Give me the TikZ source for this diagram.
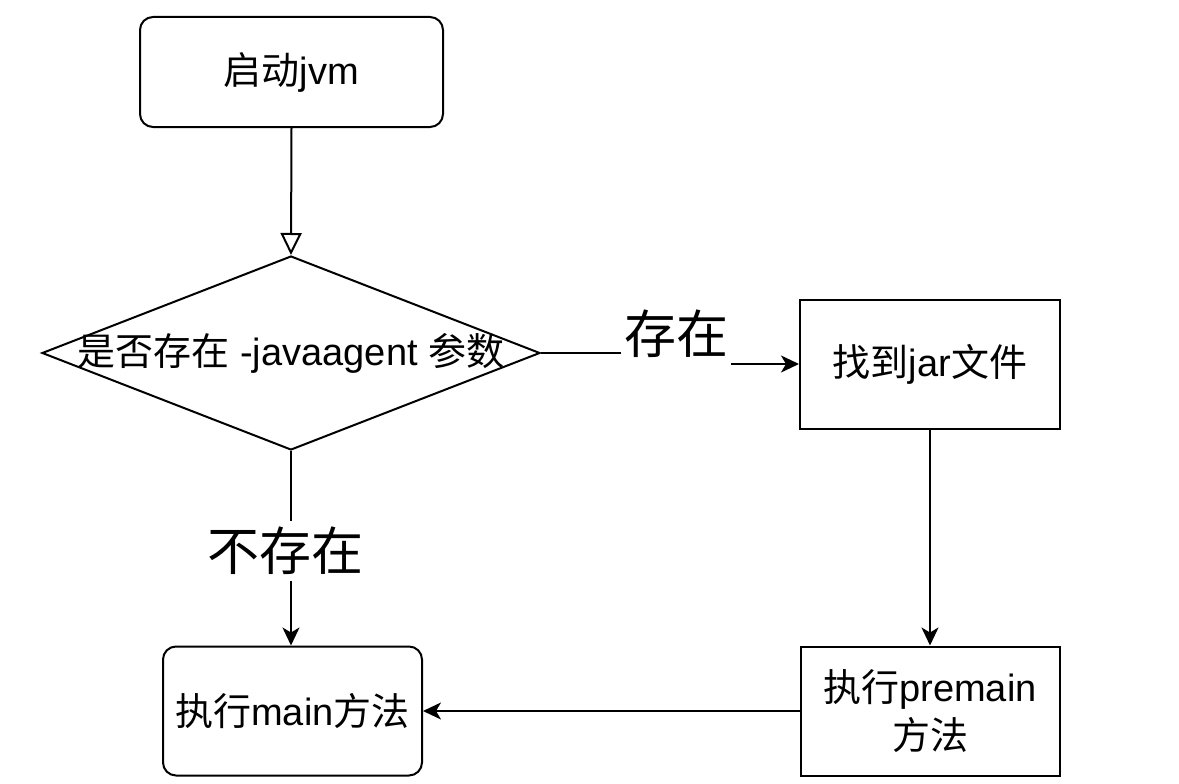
\documentclass[tikz,border=0pt]{standalone}
\usepackage{fontspec}
\setmainfont{Liberation Sans}
\newfontfamily\cjk{Noto Sans CJK SC}
\usetikzlibrary{arrows.meta,shapes.geometric}
\begin{document}
\begin{tikzpicture}[x=1pt,y=-1pt,
  every node/.style={font=\fontsize{38}{48}\selectfont},
  boxs/.style={draw=black,line width=2pt,fill=white,minimum width=259pt,minimum height=129pt,inner sep=0pt,align=center},
  rbox/.style={boxs,rounded corners=13pt},
  decision/.style={diamond,draw=black,line width=2pt,minimum width=498pt,minimum height=194pt,inner sep=0pt},
  arr/.style={line width=2pt,-{Stealth[length=18pt,width=17pt,inset=5pt]}},
  oarr/.style={line width=2pt,-{Triangle[open,length=22pt,width=21pt,line width=2pt]}},
  lbl/.style={fill=white,font=\fontsize{52}{52}\selectfont,inner xsep=3pt}
]
\useasboundingbox (0,0) rectangle (1179,784);
\fill[white] (0,0) rectangle (1179,784);

\node[rbox,minimum width=303pt,minimum height=110pt] (s) at (291.5,72) {{\cjk 启动}jvm};
\node[decision,label={center:{\cjk 是否存在} -javaagent {\cjk 参数}}] (d) at (291,353) {};
\node[boxs,minimum width=260pt] (f) at (930,364) {{\cjk 找到}jar{\cjk 文件}};
\node[boxs] (p) at (930,711) {{\cjk 执行}premain\\{\cjk 方法}};
\node[rbox] (m) at (292.5,711) {{\cjk 执行}main{\cjk 方法}};

\draw[oarr] (s.south) -- (d.north);
\draw[arr] (d.east) -- ++(135,0) coordinate (j1) |- (f.west);
\node[lbl,anchor=base,text depth=15pt] (yes) at (j1) {\cjk 存在};
\draw[arr] (d.south) -- (d.south |- m.north);
\node[lbl,inner ysep=6pt] (no) at (285,551) {\cjk 不存在};
\draw[arr] (f.south) -- (p.north);
\draw[arr] (p.west) -- (m.east);
\end{tikzpicture}
\end{document}
